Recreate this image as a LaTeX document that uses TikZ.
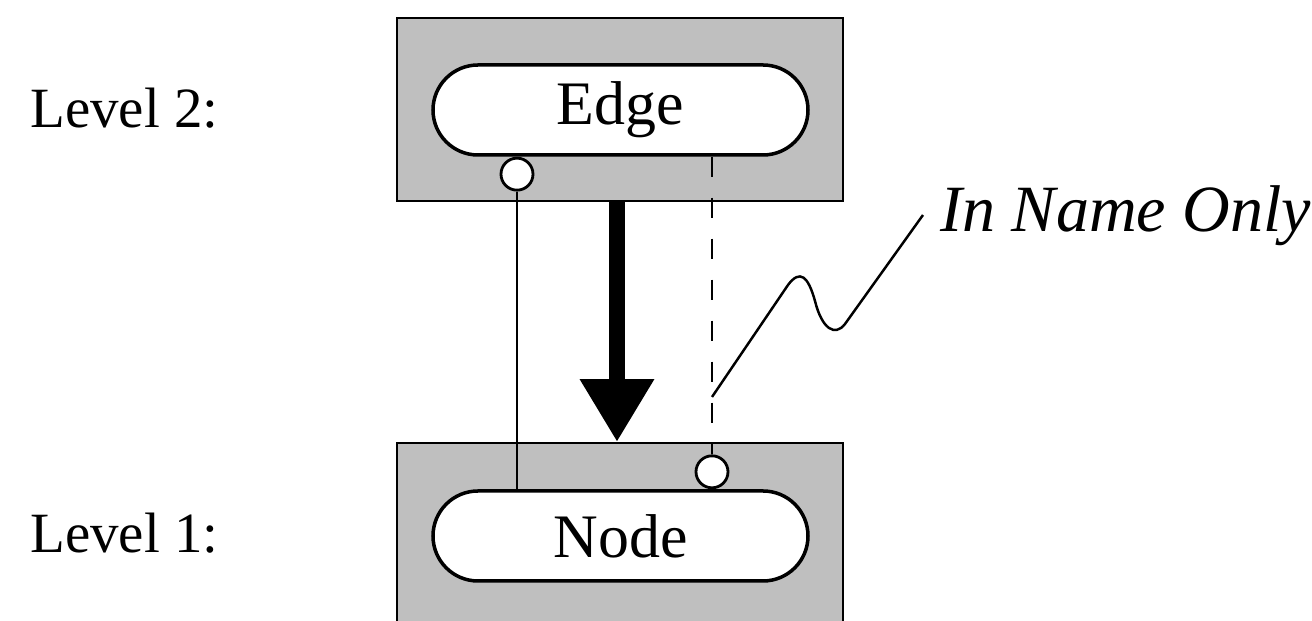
\documentclass[tikz,border=0pt]{standalone}
\usepackage{fontspec}
\setmainfont{Liberation Serif}
\usetikzlibrary{arrows.meta}
\tikzset{
  levelbox/.style={draw=black, fill=black!25, line width=0.5pt, inner sep=0pt},
  pill/.style={draw, fill=white, line width=1pt, rounded corners=0.45cm,
    minimum width=3.75cm, minimum height=0.9cm, inner sep=0pt,
    font=\fontsize{17.6pt}{20pt}\selectfont},
  port/.style={circle, draw, fill=white, line width=0.8pt, minimum size=0.32cm, inner sep=0pt},
  lvl/.style={font=\fontsize{16.2pt}{19pt}\selectfont, anchor=base west},
}
\begin{document}
\begin{tikzpicture}
\useasboundingbox (0,0) rectangle (13.12,6.21);
\coordinate (lx) at (5.17,0);
\coordinate (dx) at (7.12,0);
\coordinate (ax) at (6.17,0);
% shaded levels
\node[levelbox, minimum width=4.46cm, minimum height=1.83cm] (top) at (6.20,5.115) {};
\node[levelbox, minimum width=4.46cm, minimum height=1.88cm] (bot) at (6.20,0.84) {};
\node[lvl] (lvl2) at (0.18,4.93) {Level 2:};
\node[lvl] (lvl1) at (0.18,0.68) {Level 1:};
\node[pill] (edgebox) at (6.205,5.11) {Edge};
\node[pill] (nodebox) at (6.205,0.85) {Node};
\node[port, anchor=north] (eport) at (edgebox.south -| lx) {};
\node[port, anchor=south] (nport) at (nodebox.north -| dx) {};
\draw[line width=0.8pt] (eport.south) -- (eport.south |- nodebox.north);
\draw[line width=0.8pt, dash pattern=on 2mm off 2.1mm] (edgebox.south -| dx) -- (nport.north);
\draw[line width=1.7mm, -{Triangle[width=7mm,length=6.3mm]}] (top.south -| ax) -- (bot.north -| ax);
% callout
\node[anchor=base west, font=\fontsize{18.8pt}{22pt}\selectfont\itshape] (iname) at (9.28,3.89) {In Name Only};
\coordinate (sq) at (7.12,2.24);
\draw[line width=0.7pt] (sq) -- (7.88,3.36) .. controls (8.00,3.52) and (8.08,3.45) .. (8.15,3.20)
  .. controls (8.22,2.92) and (8.35,2.84) .. (8.45,2.97) -- ([shift={(-0.05,0.17)}]iname.base west);
\end{tikzpicture}
\end{document}
